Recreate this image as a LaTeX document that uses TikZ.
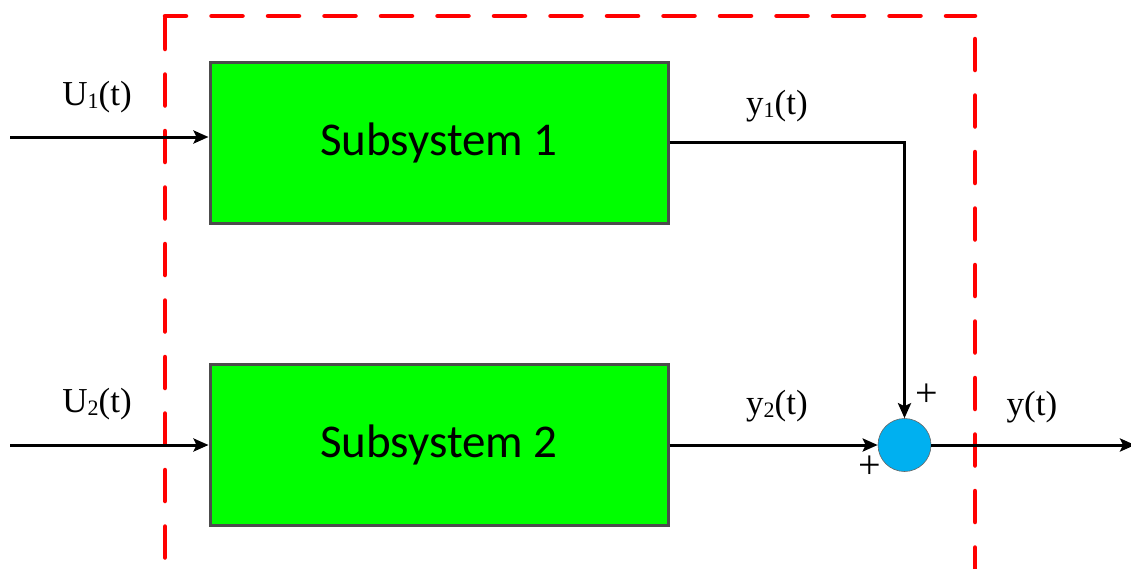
\documentclass[tikz,border=0pt]{standalone}
\usepackage{fontspec}
\setmainfont{Liberation Serif}
\newfontfamily\boxfont{Carlito}
\usetikzlibrary{arrows.meta}
\definecolor{boxgreen}{RGB}{0,255,0}
\definecolor{sumblue}{RGB}{0,176,240}
\definecolor{dashred}{RGB}{255,0,0}
\newcommand\sbs[1]{\raisebox{-3pt}{\fontsize{22}{22}\selectfont #1}}
\begin{document}
\begin{tikzpicture}[x=1pt,y=-1pt,
  block/.style={draw=black!70, line width=3pt, fill=boxgreen, minimum width=458pt, minimum height=161pt, inner sep=0pt, font=\boxfont\fontsize{47}{47}\selectfont},
  sig/.style={line width=3pt, -{Stealth[length=15pt,width=13pt,inset=3pt]}},
  lbl/.style={font=\fontsize{35}{35}\selectfont, inner sep=0pt},
  pm/.style={font=\fontsize{40}{40}\selectfont, inner sep=0pt},
  frame/.style={draw=dashred, line width=4.5pt, line cap=round, dash pattern=on 31pt off 25.5pt},
  sumnode/.style={circle, draw=black!60, line width=0.6pt, fill=sumblue, minimum size=53pt, inner sep=0pt}
]
\useasboundingbox (0,0) rectangle (1131,568);
\fill[white] (0,0) rectangle (1131,568);
% dashed frame
\draw[frame] (165,18) -- (165,620);
\draw[frame, dash phase=10pt] (165,16) -- (975,16);
\draw[frame, dash phase=33.5pt] (975,16) -- (975,620);
% blocks
\node[block] (b1) at (439,142.5) {Subsystem 1};
\node[block] (b2) at (439,445) {Subsystem 2};
\node[sumnode] (sum) at (904.5,445) {};
% inputs
\coordinate (in1) at (10,137);
\coordinate (in2) at (10,445);
\draw[sig] (in1) -- (in1 -| b1.west);
\draw[sig] (in2) -- (in2 -| b2.west);
% connections
\draw[sig] (b1.east) -| (sum.north);
\draw[sig] (b2.east) -- (sum.west);
\coordinate (out) at (1135,445);
\draw[sig] (sum.east) -- (out);
% labels
\node[lbl] (lu1) at (97,97) {U\sbs{1}(t)};
\node[lbl] (lu2) at (97,404) {U\sbs{2}(t)};
\node[lbl] (ly1) at (777,106) {y\sbs{1}(t)};
\node[lbl] (ly2) at (777,406) {y\sbs{2}(t)};
\node[lbl] (ly) at (1032,407) {y(t)};
\node[pm] (p1) at (927,395) {+};
\node[pm] (p2) at (870,467) {+};
\end{tikzpicture}
\end{document}
